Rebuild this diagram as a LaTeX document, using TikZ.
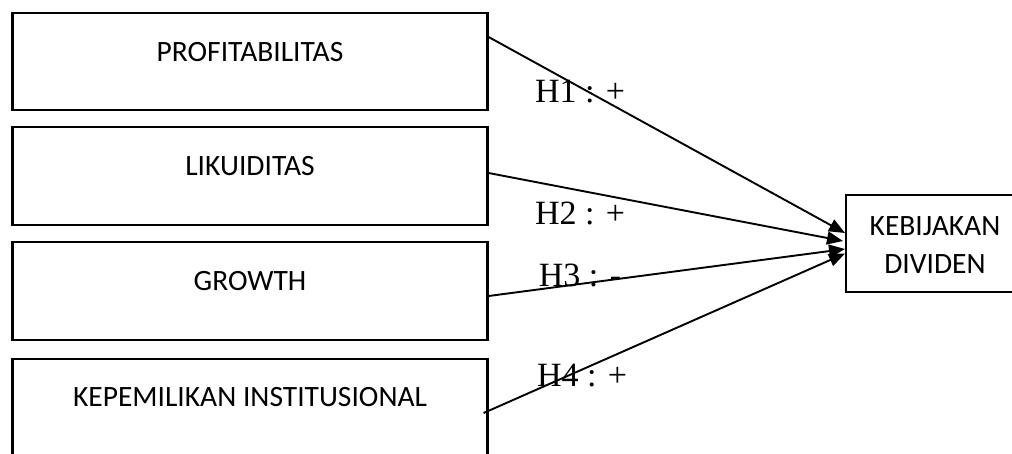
\documentclass[tikz,border=0pt]{standalone}
\usepackage{fontspec}
\setmainfont{Carlito}
\newfontfamily\labfont{Liberation Serif}
\usetikzlibrary{arrows.meta,calc}
\tikzset{
  varbox/.style={draw=black, line width=2.2pt, rectangle, inner sep=0pt},
  boxtext/.style={font=\fontsize{29.5}{40}\selectfont, inner sep=0pt, align=center},
  hyplabel/.style={font=\labfont\fontsize{34}{40}\selectfont, inner sep=0pt},
  conn/.style={line width=1.9pt, -{Triangle[length=16pt,width=13pt]}}
}
\begin{document}
\begin{tikzpicture}[x=1pt,y=-1pt]
\useasboundingbox (0,0) rectangle (1012,453);
\clip (0,0) rectangle (1012,453);
% boxes
\node[varbox, minimum width=475pt, minimum height=97pt] (p) at (250,61.5) {};
\node[varbox, minimum width=475pt, minimum height=98pt] (l) at (250,176) {};
\node[varbox, minimum width=475pt, minimum height=98pt] (g) at (250,291) {};
\node[varbox, minimum width=475pt, minimum height=110pt] (ki) at (250,414) {};
\node[varbox, line width=2pt, minimum width=180pt, minimum height=97pt] (k) at (936,243.5) {};
% box texts
\node[boxtext] (pt) at (250,52) {PROFITABILITAS};
\node[boxtext] (lt) at (250,166) {LIKUIDITAS};
\node[boxtext] (gt) at (250,281) {GROWTH};
\node[boxtext] (kit) at (250,397) {KEPEMILIKAN INSTITUSIONAL};
\node[boxtext] (kt1) at (935,226) {KEBIJAKAN};
\node[boxtext] (kt2) at (935,264) {DIVIDEN};
% hypothesis labels
\node[hyplabel] (h1) at (580,92) {H1 : +};
\node[hyplabel] (h2) at (580,213) {H2 : +};
\node[hyplabel] (h3) at (580,275) {H3 : -};
\node[hyplabel] (h4) at (582,376) {H4 : +};
% connector endpoints
\coordinate (s1) at ($(p.east)+(0,-24.5)$);
\coordinate (s2) at ($(l.east)+(0,-3)$);
\coordinate (s3) at ($(g.east)+(0,5)$);
\coordinate (s4) at ($(ki.east)+(-5,-1)$);
\coordinate (e1) at ($(k.west)+(0,-10.5)$);
\coordinate (e2) at ($(k.west)+(-2,-2.5)$);
\coordinate (e3) at ($(k.west)+(0,5.5)$);
\coordinate (e4) at ($(k.west)+(0,10)$);
\draw[conn] (s1) -- (e1);
\draw[conn] (s2) -- (e2);
\draw[conn] (s3) -- (e3);
\draw[conn] (s4) -- (e4);
\end{tikzpicture}
\end{document}
